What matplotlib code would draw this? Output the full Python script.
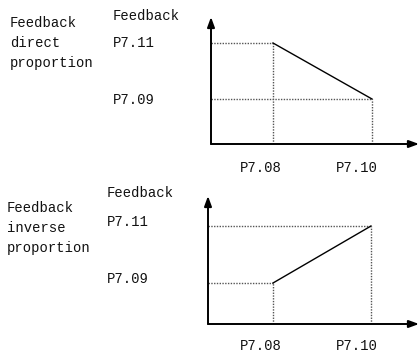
import matplotlib.pyplot as plt

# breakpoints of the two feedback curves (x: P7.08, P7.10 / y: P7.09, P7.11)
direct_x = [62, 161]
direct_y = [101, 45]
inverse_x = [65, 163]
inverse_y = [41, 98]
x_labels = ["P7.08", "P7.10"]
y_labels = ["P7.09", "P7.11"]

W, H = 420, 356
fig = plt.figure(figsize=(W / 100, H / 100), dpi=100)
plt.rcParams['font.family'] = ['Liberation Mono', 'DejaVu Sans Mono']
txt_kw = dict(fontsize=10, color='#111111')


def fx(px):
    return px / W


def fy(py):
    return 1 - py / H


def panel(ox, oy, xmax, ymax, xs, ys):
    ax = fig.add_axes([fx(ox), fy(oy), xmax / W, ymax / H])
    ax.set_xlim(0, xmax)
    ax.set_ylim(0, ymax)
    ax.axis('off')
    arrow = dict(arrowstyle='-|>,head_length=0.6,head_width=0.22', lw=1.4,
                 color='black', shrinkA=0, shrinkB=0)
    ax.annotate('', xy=(xmax, 0), xytext=(0, 0), arrowprops=arrow, clip_on=False)
    ax.annotate('', xy=(0, ymax), xytext=(0, 0), arrowprops=arrow, clip_on=False)
    dot = dict(color='#555555', lw=1.0, ls=(0, (1, 1)))
    # guides from each breakpoint to both axes
    for x, y in zip(xs, ys):
        ax.plot([0, x], [y, y], **dot)
        ax.plot([x, x], [0, y], **dot)
    ax.plot(xs, ys, color='black', lw=1.0)
    return ax


panel(211, 144, 208, 127, direct_x, direct_y)
panel(208, 324, 211, 128, inverse_x, inverse_y)

# top panel text
fig.text(fx(10), fy(16), "Feedback\ndirect\nproportion", va='top', ha='left',
         linespacing=1.55, **txt_kw)
fig.text(fx(113), fy(16), "Feedback", va='center', **txt_kw)
fig.text(fx(113), fy(43), y_labels[1], va='center', **txt_kw)
fig.text(fx(113), fy(100), y_labels[0], va='center', **txt_kw)
fig.text(fx(261), fy(168), x_labels[0], va='center', ha='center', **txt_kw)
fig.text(fx(357), fy(168), x_labels[1], va='center', ha='center', **txt_kw)

# bottom panel text
fig.text(fx(7), fy(201), "Feedback\ninverse\nproportion", va='top', ha='left',
         linespacing=1.55, **txt_kw)
fig.text(fx(107), fy(193), "Feedback", va='center', **txt_kw)
fig.text(fx(107), fy(222), y_labels[1], va='center', **txt_kw)
fig.text(fx(107), fy(279), y_labels[0], va='center', **txt_kw)
fig.text(fx(261), fy(346), x_labels[0], va='center', ha='center', **txt_kw)
fig.text(fx(357), fy(346), x_labels[1], va='center', ha='center', **txt_kw)

fig.savefig('out.png', dpi=100)
